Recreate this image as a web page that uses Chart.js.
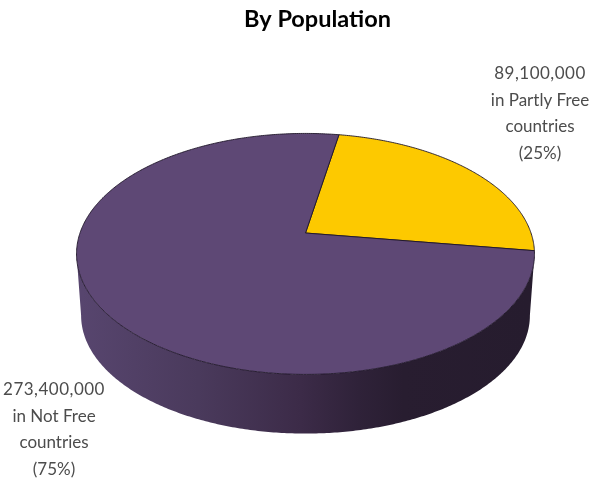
<!DOCTYPE html>
<html>
<head>
<meta charset="utf-8">
<title>By Population</title>
<script src="https://cdn.jsdelivr.net/npm/chart.js@4"></script>
<style>
  html, body { margin: 0; padding: 0; background: #ffffff; }
  #wrap { position: relative; width: 590px; height: 481px; }
</style>
</head>
<body>
<div id="wrap"><canvas id="chart"></canvas></div>
<script>
// Population living under each press-freedom status
const categories = ["Partly Free", "Not Free"];
const populations = [89100000, 273400000];
const sliceColors = ["#FDC900", "#5E4875"];
const chartTitle = "By Population";

// Tilt of the disc: near edge looks larger than the far edge,
// and the underside sits slightly further away than the top face
const TILT = { vertical: 0.5182, perspective: 0.1736, depth: 62, underside: 0.98 };

// Maps an angle on the disc to the page, seen in perspective
function project(arc, angle, lower) {
  const u = Math.cos(angle), v = Math.sin(angle);
  const w = 1 - TILT.perspective * v;
  const s = lower ? TILT.underside : 1;
  return {
    x: arc.x + s * arc.outerRadius * u / w,
    y: arc.y + s * arc.outerRadius * TILT.vertical * v / w + (lower ? TILT.depth : 0)
  };
}

function traceRim(ctx, arc, from, to, lower, join) {
  const steps = Math.max(2, Math.ceil(Math.abs(to - from) / 0.01));
  for (let i = 0; i <= steps; i++) {
    const p = project(arc, from + (to - from) * i / steps, lower);
    if (i === 0 && !join) ctx.moveTo(p.x, p.y); else ctx.lineTo(p.x, p.y);
  }
}

// Pie controller that draws its arc elements as a tilted solid disc
class TiltedPieController extends Chart.PieController {
  draw() {
    const ctx = this.chart.ctx;
    const arcs = this.getMeta().data;
    ctx.save();
    ctx.lineJoin = "round";

    // Outer wall: only the part of the rim that faces the viewer
    arcs.forEach((arc) => {
      const k = TILT.perspective;
      const frontStart = Math.asin(k), frontEnd = Math.PI - Math.asin(k);
      const turn = Math.PI * 2;
      for (const shift of [-turn, 0, turn]) {
        const from = Math.max(arc.startAngle, frontStart + shift);
        const to = Math.min(arc.endAngle, frontEnd + shift);
        if (to <= from) continue;
        const wall = ctx.createLinearGradient(82, 0, 528, 0);
        wall.addColorStop(0, "#57456E");
        wall.addColorStop(0.26, "#4A3A5C");
        wall.addColorStop(0.49, "#3C2B48");
        wall.addColorStop(0.62, "#2F2239");
        wall.addColorStop(0.72, "#281D30");
        wall.addColorStop(1, "#261C2E");
        ctx.beginPath();
        traceRim(ctx, arc, from, to, false, false);
        traceRim(ctx, arc, to, from, true, true);
        ctx.closePath();
        ctx.fillStyle = wall;
        ctx.fill();
      }
    });

    // Top face
    ctx.lineWidth = 0.9;
    ctx.strokeStyle = "#1F1629";
    arcs.forEach((arc) => {
      ctx.beginPath();
      ctx.moveTo(arc.x, arc.y);
      traceRim(ctx, arc, arc.startAngle, arc.endAngle, false, true);
      ctx.closePath();
      ctx.fillStyle = arc.options.backgroundColor;
      ctx.fill();
      ctx.stroke();
    });
    ctx.restore();
  }
}
TiltedPieController.id = "tiltedPie";
TiltedPieController.defaults = Chart.PieController.defaults;
TiltedPieController.overrides = Chart.PieController.overrides;
Chart.register(TiltedPieController);

const total = populations.reduce((a, b) => a + b, 0);
function labelLines(i) {
  return [
    populations[i].toLocaleString("en-US"),
    "in " + categories[i],
    "countries",
    "(" + Math.round(populations[i] / total * 100) + "%)"
  ];
}

// Title and the value captions beside the disc
const captions = {
  id: "captions",
  afterDraw(chart) {
    const ctx = chart.ctx;
    ctx.save();
    ctx.textAlign = "center";
    ctx.textBaseline = "alphabetic";
    ctx.fillStyle = "#000000";
    ctx.font = "bold 23.5px Lato";
    ctx.fillText(chartTitle, 317.5, 27);
    ctx.fillStyle = "#4C4C4C";
    ctx.font = "17px Lato";
    const drawBlock = (lines, x, y) => lines.forEach((line, n) => {
      ctx.letterSpacing = n === 0 ? "0.5px" : "0px";
      ctx.fillText(line, x, y + n * 26.7);
    });
    drawBlock(labelLines(0), 540, 79);
    drawBlock(labelLines(1), 54, 395);
    ctx.restore();
  }
};

new Chart(document.getElementById("chart"), {
  type: "tiltedPie",
  data: {
    labels: categories,
    datasets: [{ data: populations, backgroundColor: sliceColors }]
  },
  options: {
    responsive: true,
    maintainAspectRatio: false,
    animation: false,
    rotation: 10,
    layout: { padding: { left: 79, right: 58, top: 6.5, bottom: 21.5 } },
    plugins: { legend: { display: false }, tooltip: { enabled: false } }
  },
  plugins: [captions]
});
</script>
</body>
</html>
